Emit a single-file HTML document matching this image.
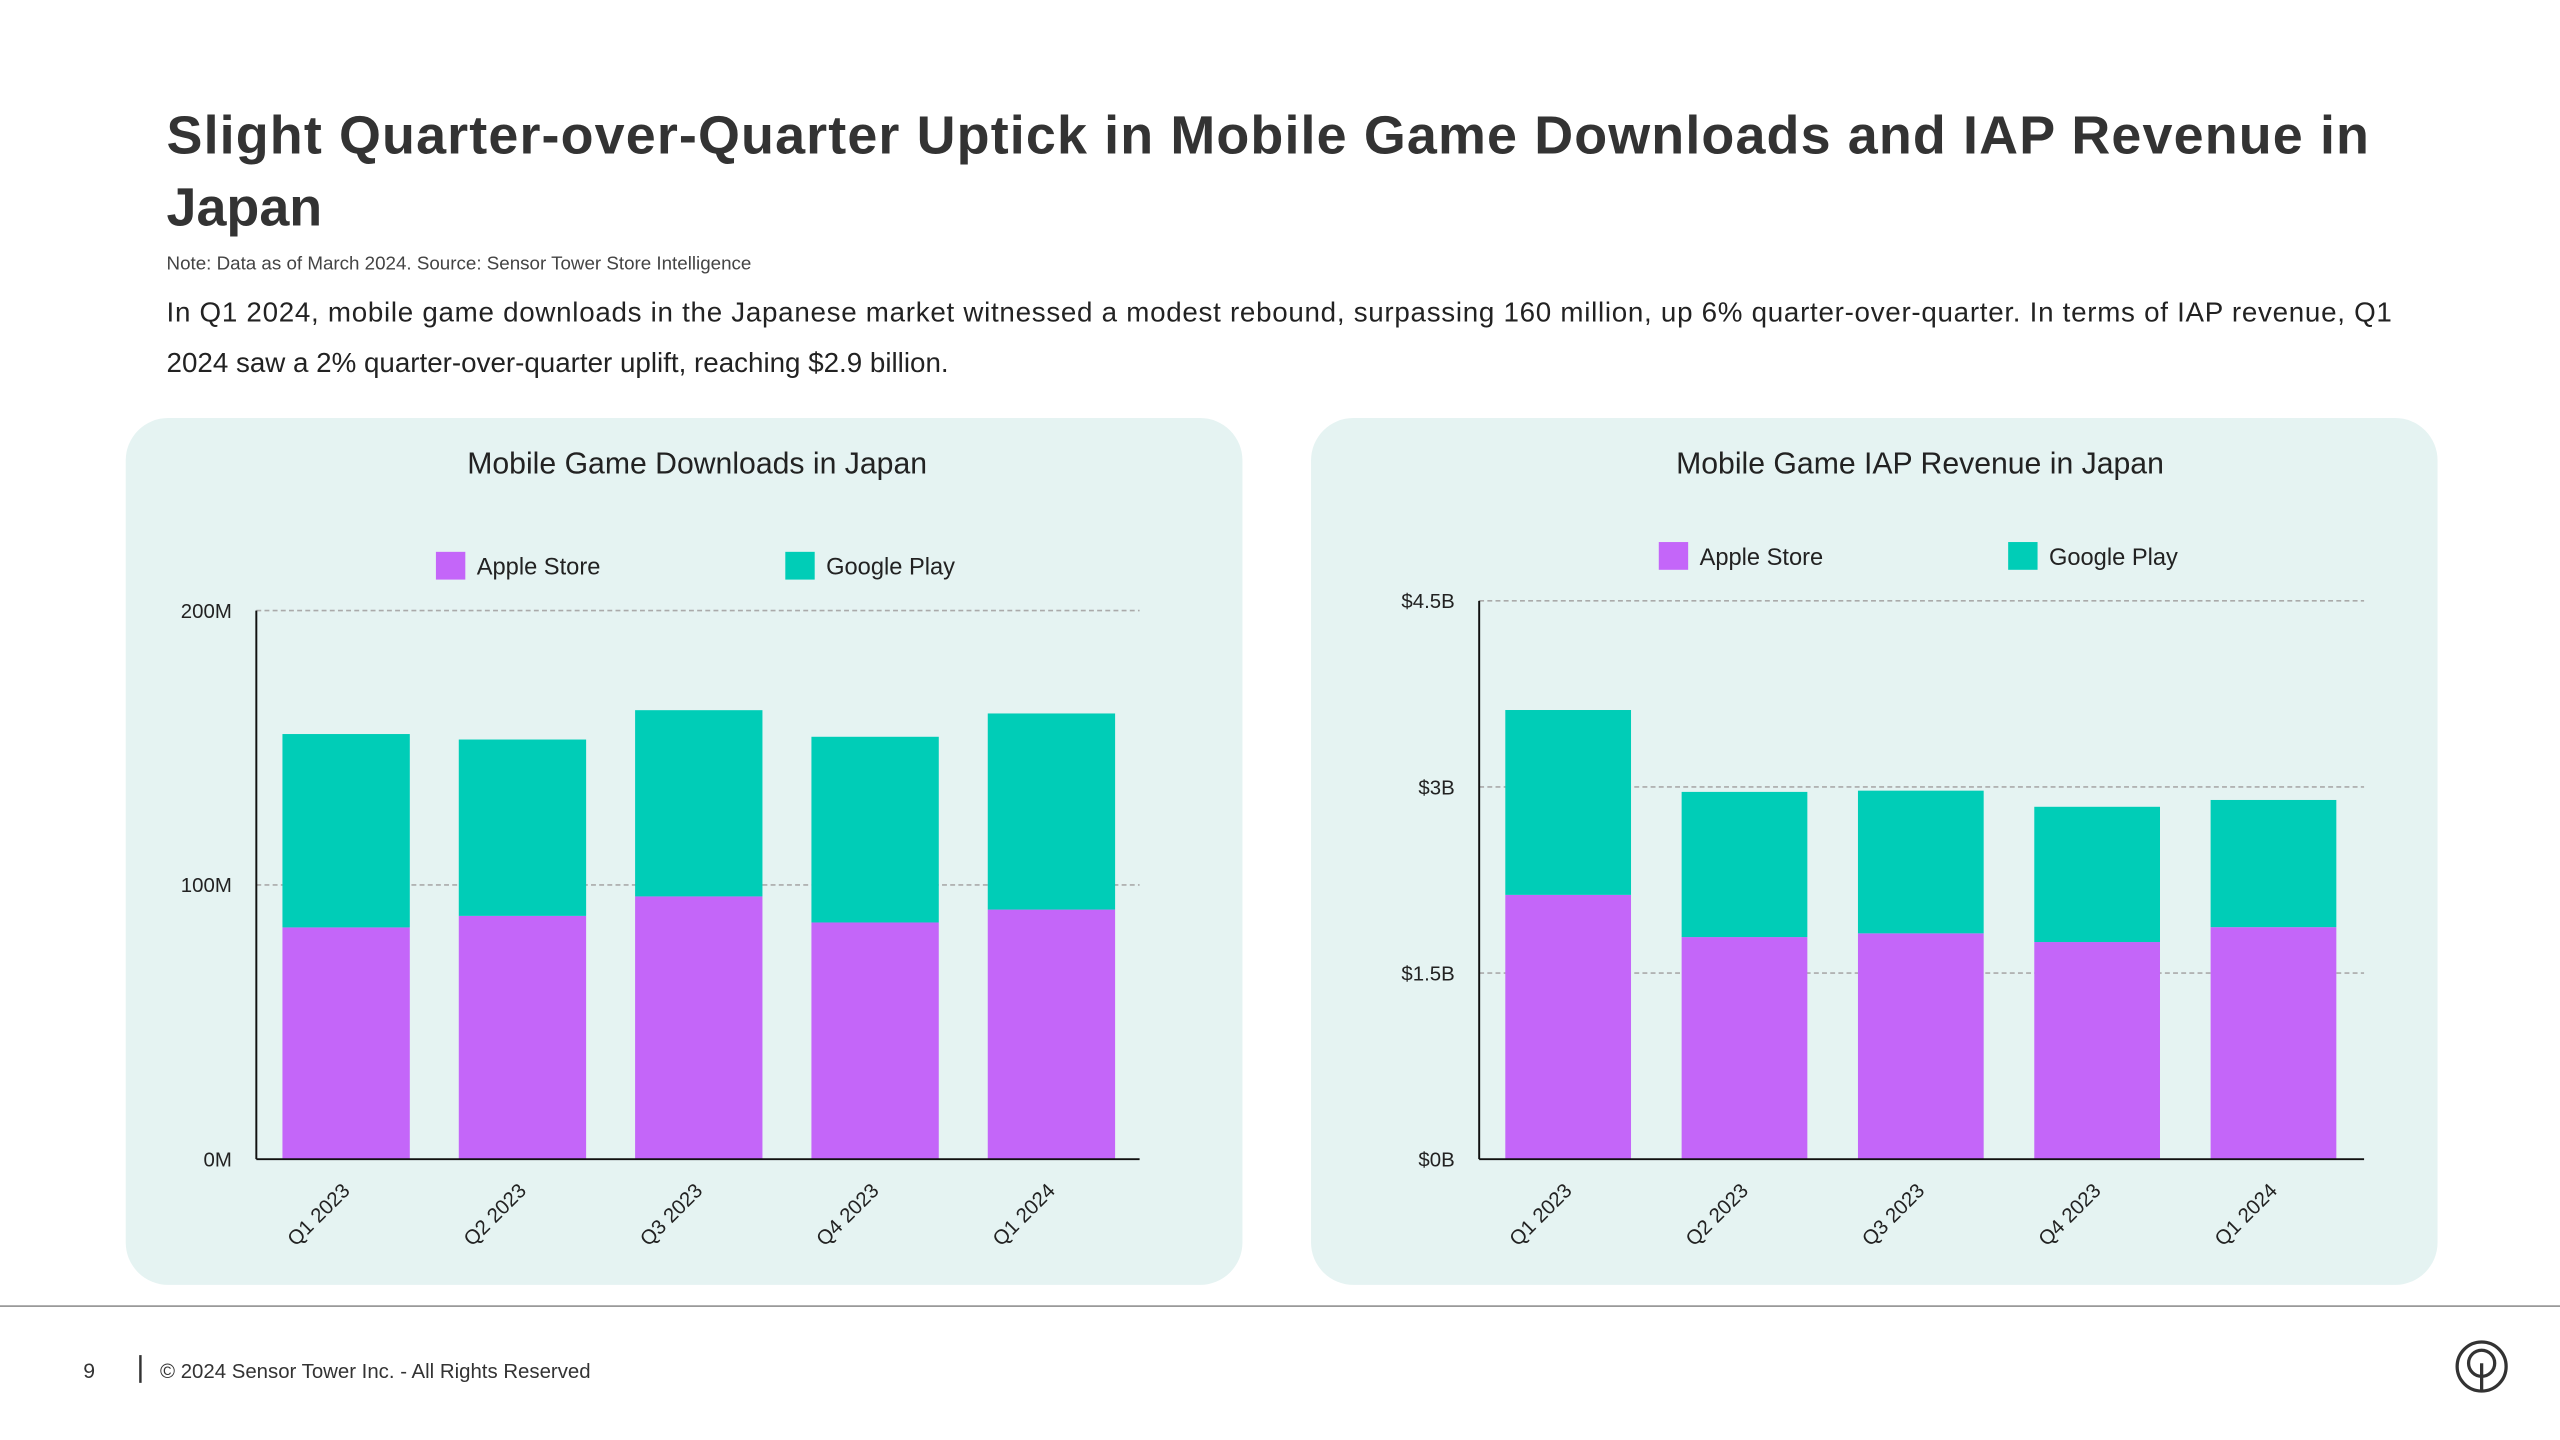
<!DOCTYPE html>
<html><head><meta charset="utf-8"><style>
html,body{margin:0;padding:0;background:#fff;}
svg{display:block;font-family:"Liberation Sans",sans-serif;}
</style></head><body>
<svg id="root" width="2560" height="1440" viewBox="0 0 1568 882" xmlns="http://www.w3.org/2000/svg">
<rect x="0" y="0" width="1568" height="882" fill="#ffffff"/>
<text x="102" y="94" font-size="33" font-weight="bold" fill="#333" textLength="1349" lengthAdjust="spacing">Slight Quarter-over-Quarter Uptick in Mobile Game Downloads and IAP Revenue in</text>
<text x="102" y="138" font-size="33" font-weight="bold" fill="#333">Japan</text>
<text x="102" y="165" font-size="11.5" fill="#444">Note: Data as of March 2024. Source: Sensor Tower Store Intelligence</text>
<text x="102" y="197" font-size="17" fill="#222" textLength="1363" lengthAdjust="spacing">In Q1 2024, mobile game downloads in the Japanese market witnessed a modest rebound, surpassing 160 million, up 6% quarter-over-quarter. In terms of IAP revenue, Q1</text>
<text x="102" y="228" font-size="17" fill="#222">2024 saw a 2% quarter-over-quarter uplift, reaching $2.9 billion.</text>
<rect x="77" y="256" width="684" height="531" rx="26" fill="#e5f3f2"/>
<rect x="803" y="256" width="690" height="531" rx="26" fill="#e5f3f2"/>
<g id="c1"></g>
<g id="c2"></g>
<line x1="0" y1="800" x2="1568" y2="800" stroke="#999" stroke-width="1"/>
<text x="51" y="844" font-size="13" fill="#333">9</text>
<line x1="86" y1="830" x2="86" y2="847" stroke="#333" stroke-width="1.5"/>
<text x="98" y="844" font-size="12.5" fill="#333">© 2024 Sensor Tower Inc. - All Rights Reserved</text>
<g fill="none" stroke="#333" stroke-width="2">
<circle cx="1520" cy="837" r="15"/><circle cx="1520" cy="835" r="8"/><line x1="1520" y1="835" x2="1520" y2="852"/>
</g>
</svg>
<script>
const categories=["Q1 2023","Q2 2023","Q3 2023","Q4 2023","Q1 2024"];
const dlApple=[84.5,88.7,95.8,86.3,91];
const dlGoogle=[70.5,64.3,67.9,67.7,71.5];
const dlTicks=[0,100,200];
const dlTickLabels=["0M","100M","200M"];
const revApple=[2.13,1.79,1.82,1.75,1.87];
const revGoogle=[1.49,1.17,1.15,1.09,1.025];
const revTicks=[0,1.5,3,4.5];
const revTickLabels=["$0B","$1.5B","$3B","$4.5B"];
const NS="http://www.w3.org/2000/svg";
function mk(tag,attrs,parent){const e=document.createElementNS(NS,tag);for(const k in attrs)e.setAttribute(k,attrs[k]);parent.appendChild(e);return e;}
function chart(g,cfg){
  const y=v=>cfg.y0-(v/cfg.max)*(cfg.y0-cfg.yTop);
  const x=i=>cfg.x0+cfg.firstOff+i*cfg.step;
  const t=mk('text',{x:cfg.titleX,y:290,'font-size':18.5,'text-anchor':'middle',fill:'#222'},g);t.textContent=cfg.title;
  
  
  [[cfg.legX,'#c466f9','Apple Store'],[cfg.legX+214,'#00cdb7','Google Play']].forEach(l=>{
    const r=mk('rect',{x:l[0],y:cfg.legY,width:18,height:17,fill:l[1]},g);
    
    
    const tx=mk('text',{x:l[0]+25,y:cfg.legY+14,'font-size':14.5,fill:'#222'},g);tx.textContent=l[2];
    
    
  });
  cfg.ticks.forEach((v,i)=>{
    if(v>0){const gl=mk('line',{x1:cfg.x0,y1:y(v),x2:cfg.x1,y2:y(v),stroke:'#aaa','stroke-dasharray':'3 2','stroke-width':1},g);
    
    }
    const tl=mk('text',{x:cfg.x0-15,y:y(v)+4.5,'font-size':12.5,'text-anchor':'end',fill:'#222'},g);tl.textContent=cfg.tickLabels[i];
    
    
  });
  categories.forEach((c,i)=>{
    const a=cfg.a[i],b=cfg.b[i];
    const r1=mk('rect',{x:x(i),y:y(a),width:cfg.bw,height:y(0)-y(a),fill:'#c466f9'},g);
    
    
    const r2=mk('rect',{x:x(i),y:y(a+b),width:cfg.bw,height:y(a)-y(a+b),fill:'#00cdb7'},g);
    
    
    const cx=x(i)+cfg.bw/2+3,cy=cfg.y0+20;
    const tl=mk('text',{x:cx,y:cy,'font-size':12.5,'text-anchor':'end',fill:'#222',transform:`rotate(-45 ${cx} ${cy})`},g);tl.textContent=c;
    
    
  });
  const ax=mk('line',{x1:cfg.x0,y1:cfg.yTop,x2:cfg.x0,y2:cfg.y0,stroke:'#111','stroke-width':1.2},g);
  
  
  const bx=mk('line',{x1:cfg.x0,y1:cfg.y0,x2:cfg.x1,y2:cfg.y0,stroke:'#111','stroke-width':1.2},g);
  
  
}
chart(document.getElementById('c1'),{title:'Mobile Game Downloads in Japan',titleX:427,legX:267,legY:338,x0:157,x1:698,y0:710,yTop:374,max:200,firstOff:16,step:108,bw:78,a:dlApple,b:dlGoogle,ticks:dlTicks,tickLabels:dlTickLabels});
chart(document.getElementById('c2'),{title:'Mobile Game IAP Revenue in Japan',titleX:1176,legX:1016,legY:332,x0:906,x1:1448,y0:710,yTop:368,max:4.5,firstOff:16,step:108,bw:77,a:revApple,b:revGoogle,ticks:revTicks,tickLabels:revTickLabels});
</script>
</body></html>
